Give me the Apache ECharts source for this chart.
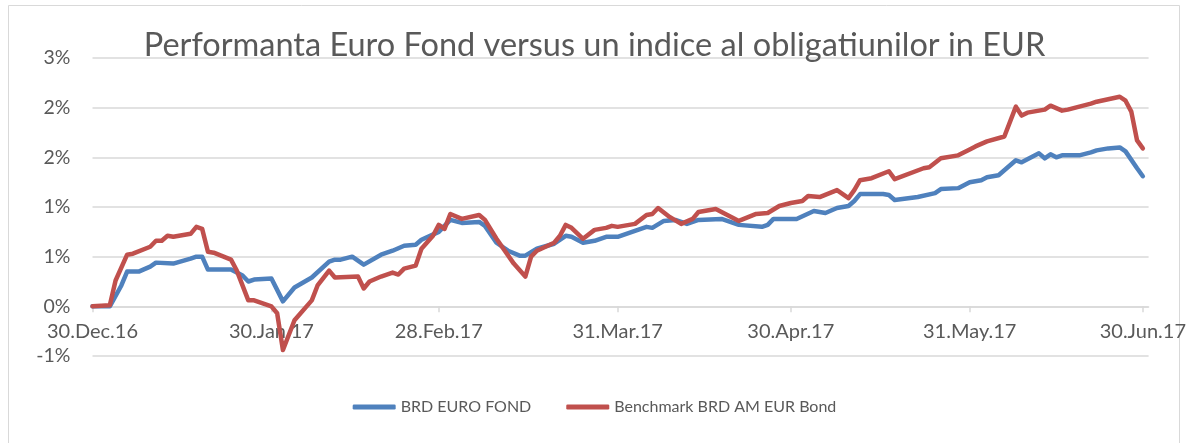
<!DOCTYPE html>
<html>
<head>
<meta charset="utf-8">
<script src="https://cdn.jsdelivr.net/npm/echarts@6/dist/echarts.min.js"></script>
<style>
  html, body { margin: 0; padding: 0; background: #fff; }
  #chart { width: 1189px; height: 443px; }
</style>
</head>
<body>
<div id="chart"></div>
<script>
// ---- Data (values in %) ----
const titleText = 'Performanta Euro Fond versus un indice al obligatiunilor in EUR';
const seriesNames = ['BRD EURO FOND', 'Benchmark BRD AM EUR Bond'];

const fondDates = ['2016-12-30','2017-01-02','2017-01-04','2017-01-05','2017-01-07','2017-01-09','2017-01-10','2017-01-13','2017-01-16','2017-01-17','2017-01-18','2017-01-19','2017-01-23','2017-01-25','2017-01-26','2017-01-27','2017-01-30','2017-02-01','2017-02-03','2017-02-06','2017-02-09','2017-02-10','2017-02-11','2017-02-13','2017-02-15','2017-02-18','2017-02-20','2017-02-22','2017-02-24','2017-02-25','2017-02-28','2017-03-02','2017-03-04','2017-03-07','2017-03-08','2017-03-10','2017-03-12','2017-03-14','2017-03-15','2017-03-17','2017-03-20','2017-03-22','2017-03-23','2017-03-25','2017-03-27','2017-03-29','2017-03-31','2017-04-03','2017-04-05','2017-04-06','2017-04-08','2017-04-10','2017-04-12','2017-04-14','2017-04-18','2017-04-21','2017-04-25','2017-04-26','2017-04-27','2017-05-01','2017-05-04','2017-05-06','2017-05-08','2017-05-10','2017-05-11','2017-05-12','2017-05-16','2017-05-17','2017-05-18','2017-05-22','2017-05-25','2017-05-26','2017-05-29','2017-05-31','2017-06-02','2017-06-03','2017-06-05','2017-06-06','2017-06-08','2017-06-09','2017-06-12','2017-06-13','2017-06-14','2017-06-15','2017-06-16','2017-06-19','2017-06-21','2017-06-22','2017-06-24','2017-06-26','2017-06-27','2017-06-29','2017-06-30'];
const fondValues = [0.00,0.00,0.21,0.35,0.35,0.40,0.44,0.43,0.48,0.50,0.50,0.37,0.37,0.31,0.25,0.27,0.28,0.05,0.19,0.29,0.45,0.47,0.47,0.50,0.42,0.52,0.56,0.61,0.62,0.67,0.75,0.87,0.84,0.85,0.81,0.64,0.56,0.51,0.51,0.58,0.63,0.71,0.70,0.64,0.66,0.70,0.70,0.76,0.80,0.79,0.86,0.87,0.83,0.87,0.88,0.82,0.80,0.82,0.88,0.88,0.96,0.94,0.99,1.01,1.06,1.13,1.13,1.12,1.07,1.10,1.14,1.18,1.19,1.25,1.27,1.30,1.32,1.37,1.47,1.45,1.54,1.49,1.53,1.50,1.52,1.52,1.55,1.57,1.59,1.60,1.56,1.39,1.31];

const benchDates = ['2016-12-30','2017-01-02','2017-01-03','2017-01-05','2017-01-06','2017-01-09','2017-01-10','2017-01-11','2017-01-12','2017-01-13','2017-01-16','2017-01-17','2017-01-18','2017-01-19','2017-01-20','2017-01-23','2017-01-24','2017-01-26','2017-01-27','2017-01-30','2017-01-31','2017-02-01','2017-02-03','2017-02-06','2017-02-07','2017-02-09','2017-02-10','2017-02-14','2017-02-15','2017-02-16','2017-02-18','2017-02-20','2017-02-21','2017-02-22','2017-02-24','2017-02-25','2017-02-27','2017-02-28','2017-03-01','2017-03-02','2017-03-04','2017-03-07','2017-03-08','2017-03-10','2017-03-13','2017-03-15','2017-03-16','2017-03-17','2017-03-20','2017-03-21','2017-03-22','2017-03-23','2017-03-25','2017-03-27','2017-03-29','2017-03-30','2017-03-31','2017-04-03','2017-04-05','2017-04-06','2017-04-07','2017-04-09','2017-04-11','2017-04-13','2017-04-14','2017-04-15','2017-04-17','2017-04-19','2017-04-21','2017-04-24','2017-04-26','2017-04-28','2017-04-30','2017-05-02','2017-05-03','2017-05-05','2017-05-08','2017-05-10','2017-05-11','2017-05-12','2017-05-14','2017-05-17','2017-05-18','2017-05-23','2017-05-24','2017-05-26','2017-05-29','2017-05-31','2017-06-01','2017-06-03','2017-06-06','2017-06-08','2017-06-09','2017-06-10','2017-06-13','2017-06-14','2017-06-16','2017-06-17','2017-06-21','2017-06-22','2017-06-26','2017-06-27','2017-06-28','2017-06-29','2017-06-30'];
const benchValues = [0.00,0.01,0.26,0.52,0.53,0.60,0.66,0.66,0.71,0.70,0.73,0.80,0.78,0.55,0.54,0.47,0.36,0.06,0.06,0.00,-0.07,-0.44,-0.14,0.06,0.21,0.36,0.29,0.30,0.18,0.25,0.30,0.34,0.32,0.38,0.41,0.58,0.71,0.82,0.78,0.93,0.88,0.92,0.87,0.68,0.43,0.30,0.50,0.56,0.64,0.71,0.82,0.79,0.68,0.77,0.79,0.81,0.80,0.83,0.92,0.93,0.99,0.90,0.83,0.88,0.95,0.96,0.98,0.92,0.86,0.93,0.94,1.01,1.04,1.06,1.11,1.10,1.17,1.09,1.17,1.27,1.29,1.36,1.28,1.39,1.40,1.49,1.52,1.58,1.61,1.66,1.71,2.01,1.92,1.95,1.98,2.02,1.97,1.98,2.04,2.06,2.11,2.07,1.96,1.67,1.59];

const xRange = ['2016-12-30', '2017-07-01'];
const xTickDates = ['2016-12-30','2017-01-30','2017-02-28','2017-03-31','2017-04-30','2017-05-31','2017-06-30'];
const xTickLabels = ['30.Dec.16','30.Jan.17','28.Feb.17','31.Mar.17','30.Apr.17','31.May.17','30.Jun.17'];
const yRange = [-0.5, 2.5];
const yTickValues = [-0.5, 0, 0.5, 1, 1.5, 2, 2.5];
const yTickLabels = ['-1%', '0%', '1%', '1%', '2%', '2%', '3%'];

// ---- helpers ----
function ts(s) { const p = s.split('-').map(Number); return Date.UTC(p[0], p[1] - 1, p[2]); }
function pairs(dates, vals) { return dates.map((d, i) => [ts(d), vals[i]]); }
const xTickTs = xTickDates.map(ts);

const FONT = 'Lato';
const TXT = '#595959';
const GRID = '#d9d9d9';
const GRID_TOP = 58, GRID_BOTTOM = 87, H = 443;
const plotH = H - GRID_TOP - GRID_BOTTOM;
// place the category axis on the 0% line (distance from the bottom edge of the plot)
const zeroOffset = -plotH * (0 - yRange[0]) / (yRange[1] - yRange[0]);

const chart = echarts.init(document.getElementById('chart'), null, { renderer: 'canvas' });
chart.setOption({
  backgroundColor: '#ffffff',
  animation: false,
  title: {
    text: titleText,
    left: 'center',
    top: 24,
    textStyle: { fontFamily: FONT, fontSize: 32.5, fontWeight: 'normal', color: TXT }
  },
  graphic: [{
    type: 'rect',
    shape: { x: 8.5, y: 5.5, width: 1171, height: 445 },
    style: { fill: 'none', stroke: GRID, lineWidth: 1 },
    silent: true
  }],
  grid: { left: 92.5, right: 34, top: GRID_TOP, bottom: GRID_BOTTOM, containLabel: false },
  legend: {
    bottom: 23,
    left: 'center',
    icon: 'roundRect',
    itemWidth: 43,
    itemHeight: 5,
    itemGap: 35,
    textStyle: { fontFamily: FONT, fontSize: 16, color: TXT },
    data: seriesNames
  },
  xAxis: {
    type: 'value',
    min: ts(xRange[0]),
    max: ts(xRange[1]),
    position: 'bottom',
    offset: zeroOffset,
    axisLine: { show: true, onZero: false, lineStyle: { color: GRID, width: 1.5 } },
    axisTick: { show: true, customValues: xTickTs, length: 6, lineStyle: { color: GRID, width: 1.5 } },
    axisLabel: {
      customValues: xTickTs,
      margin: 15,
      fontFamily: FONT, fontSize: 20, color: TXT,
      hideOverlap: false,
      formatter: function (v) {
        const i = xTickTs.indexOf(v);
        return i >= 0 ? xTickLabels[i] : '';
      }
    },
    splitLine: { show: false }
  },
  yAxis: {
    type: 'value',
    min: yRange[0],
    max: yRange[1],
    interval: 0.5,
    axisLine: { show: false },
    axisTick: { show: false },
    axisLabel: {
      margin: 22,
      fontFamily: FONT, fontSize: 19.5, color: TXT,
      formatter: function (v) {
        let best = 0;
        yTickValues.forEach((t, i) => { if (Math.abs(t - v) < Math.abs(yTickValues[best] - v)) best = i; });
        return yTickLabels[best];
      }
    },
    splitLine: { show: true, lineStyle: { color: GRID, width: 1.5 } }
  },
  series: [
    {
      name: seriesNames[0],
      type: 'line',
      data: pairs(fondDates, fondValues),
      showSymbol: false,
      symbol: 'none',
      lineStyle: { color: '#4F81BD', width: 4.5, cap: 'round', join: 'round' },
      itemStyle: { color: '#4F81BD' },
      z: 3
    },
    {
      name: seriesNames[1],
      type: 'line',
      data: pairs(benchDates, benchValues),
      showSymbol: false,
      symbol: 'none',
      lineStyle: { color: '#C0504D', width: 4.5, cap: 'round', join: 'round' },
      itemStyle: { color: '#C0504D' },
      z: 4
    }
  ]
});
</script>
</body>
</html>
